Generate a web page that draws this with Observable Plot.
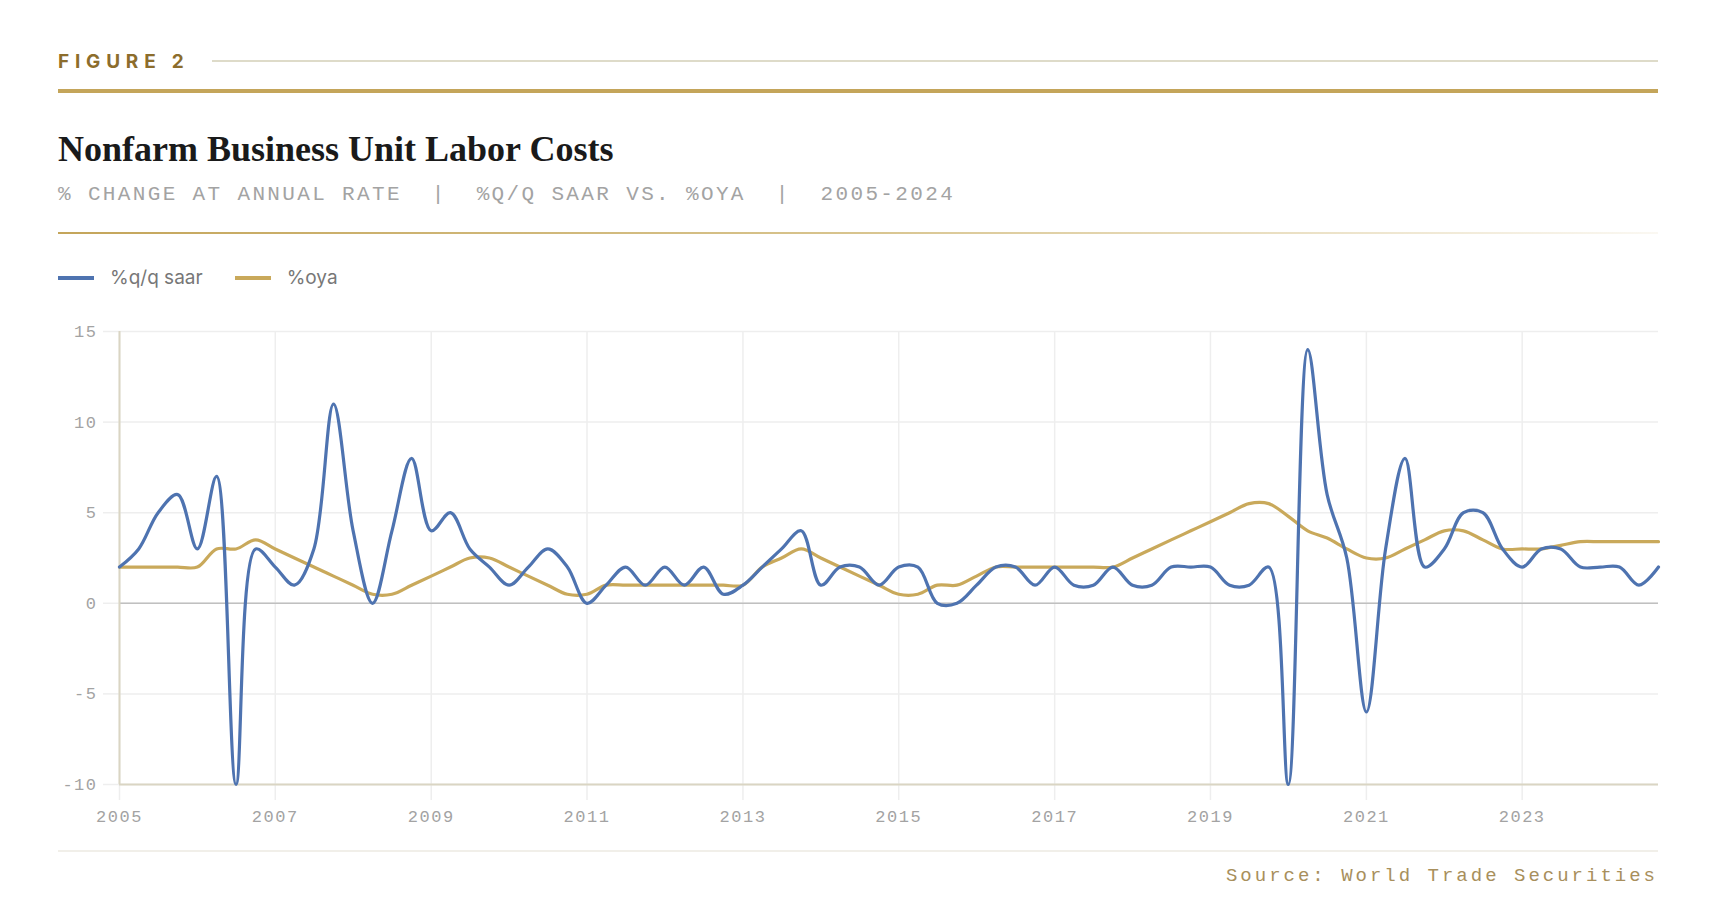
<!DOCTYPE html>
<html>
<head>
<meta charset="utf-8">
<script src="https://cdn.jsdelivr.net/npm/d3@7"></script>
<script src="https://cdn.jsdelivr.net/npm/@observablehq/plot@0.6"></script>
<style>
  html, body { margin: 0; padding: 0; background: #ffffff; }
  body { width: 1736px; height: 924px; position: relative; overflow: hidden; font-family: Inter, "Noto Sans", sans-serif; }
  .abs { position: absolute; }
  #figlabel { left: 58px; top: 52px; font: 700 19px/20px Inter, sans-serif; letter-spacing: 5.8px; color: #8c6d2c; white-space: nowrap; }
  #figline { left: 212px; top: 60px; width: 1446px; height: 2px; background: #dedbc9; }
  #toprule { left: 58px; top: 89px; width: 1600px; height: 4px; background: #c4a55a; }
  #title { left: 58px; top: 131px; font: 700 36px/36px "Liberation Serif", serif; color: #1a1a1a; white-space: nowrap; }
  #subtitle { left: 58px; top: 184px; font: 400 21px/21px "Liberation Mono", monospace; letter-spacing: 2.35px; color: #a3a3a3; white-space: pre; }
  #subrule { left: 58px; top: 232px; width: 1600px; height: 2px; background: linear-gradient(to right, #c4a55a 0%, #d8c48e 50%, rgba(196,165,90,0.08) 100%); }
  #legend { left: 58px; top: 266px; height: 24px; display: flex; align-items: center; font: 400 19px/24px Inter, sans-serif; color: #777777; white-space: nowrap; }
  .sw { display: inline-block; width: 36px; height: 4px; margin-right: 16px; }
  .item { display: flex; align-items: center; margin-right: 32px; }
  #chart { left: 58px; top: 300px; }
  #footrule { left: 58px; top: 850px; width: 1600px; height: 2px; background: #f1efe9; }
  #source { right: 78px; top: 867px; font: 400 19px/19px "Liberation Mono", monospace; letter-spacing: 3px; color: #a88f5c; white-space: nowrap; }
  g[aria-label="x-axis tick label"] text, g[aria-label="y-axis tick label"] text { letter-spacing: 1.5px; }
</style>
</head>
<body>
<div id="figlabel" class="abs">FIGURE 2</div>
<div id="figline" class="abs"></div>
<div id="toprule" class="abs"></div>
<div id="title" class="abs">Nonfarm Business Unit Labor Costs</div>
<div id="subtitle" class="abs">% CHANGE AT ANNUAL RATE  |  %Q/Q SAAR VS. %OYA  |  2005-2024</div>
<div id="subrule" class="abs"></div>
<div id="legend" class="abs"></div>
<div id="chart" class="abs"></div>
<div id="footrule" class="abs"></div>
<div id="source" class="abs">Source: World Trade Securities</div>
<script>
// Quarterly data, 2005 Q1 – 2024 Q4
const startYear = 2005;
const seriesNames = ["%q/q saar", "%oya"];
const seriesColors = ["#4e73b0", "#c9a95b"];

const saar = [
  2, 3, 5, 6,      3, 7, -10, 3,     2, 1, 3, 11,      4, 0, 4, 8,
  4, 5, 3, 2,      1, 2, 3, 2,       0, 1, 2, 1,       2, 1, 2, 0.5,
  1, 2, 3, 4,      1, 2, 2, 1,       2, 2, 0, 0,       1, 2, 2, 1,
  2, 1, 1, 2,      1, 1, 2, 2,       2, 1, 1, 2,       -10, 14, 6, 2.5,
  -6, 3, 8, 2,     3, 5, 5, 3,       2, 3, 3, 2,       2, 2, 1, 2
];
const oya = [
  2, 2, 2, 2,      2, 3, 3, 3.5,     3, 2.5, 2, 1.5,   1, 0.5, 0.5, 1,
  1.5, 2, 2.5, 2.5, 2, 1.5, 1, 0.5,  0.5, 1, 1, 1,     1, 1, 1, 1,
  1, 2, 2.5, 3,    2.5, 2, 1.5, 1,   0.5, 0.5, 1, 1,   1.5, 2, 2, 2,
  2, 2, 2, 2,      2.5, 3, 3.5, 4,   4.5, 5, 5.5, 5.5, 4.8, 4, 3.6, 3,
  2.5, 2.5, 3, 3.5, 4, 4, 3.5, 3,    3, 3, 3.2, 3.4,   3.4, 3.4, 3.4, 3.4
];
const xTickYears = [2005, 2007, 2009, 2011, 2013, 2015, 2017, 2019, 2021, 2023];
const yTicks = [-10, -5, 0, 5, 10, 15];

const dates = saar.map((_, i) => new Date(Date.UTC(startYear, 3 * i, 1)));
const rows = [];
saar.forEach((v, i) => rows.push({date: dates[i], value: v, series: seriesNames[0]}));
oya.forEach((v, i) => rows.push({date: dates[i], value: v, series: seriesNames[1]}));
const xTicks = xTickYears.map(y => new Date(Date.UTC(y, 0, 1)));

// legend
const legend = document.getElementById("legend");
seriesNames.forEach((n, i) => {
  const it = document.createElement("span");
  it.className = "item";
  it.innerHTML = `<span class="sw" style="background:${seriesColors[i]}"></span><span>${n}</span>`;
  legend.appendChild(it);
});

const chart = Plot.plot({
  width: 1600,
  height: 534,
  marginLeft: 61,
  marginRight: 0,
  marginTop: 31,
  marginBottom: 50,
  style: {fontFamily: "'Liberation Mono', monospace", fontSize: "17px", color: "#a3a3a3", background: "transparent", overflow: "visible"},
  x: {type: "utc", domain: [dates[0], dates[dates.length - 1]]},
  y: {domain: [-10, 15]},
  color: {domain: seriesNames, range: seriesColors},
  marks: [
    Plot.gridY({ticks: yTicks, stroke: "#eeeeee", strokeOpacity: 1, strokeWidth: 1.5}),
    Plot.gridX({ticks: xTicks, stroke: "#eeeeee", strokeOpacity: 1, strokeWidth: 1.5}),
    Plot.axisY({ticks: yTicks, tickSize: 16, tickPadding: 6, stroke: "#eeeeee", strokeWidth: 1.5, tickFormat: d => String(d), label: null, fill: "#a3a3a3"}),
    Plot.axisX({ticks: xTicks, tickSize: 16, tickPadding: 9, stroke: "#eeeeee", strokeWidth: 1.5, tickFormat: d3.utcFormat("%Y"), label: null, fill: "#a3a3a3"}),
    Plot.ruleY([0], {stroke: "#c0c0c0", strokeWidth: 1.5}),
    Plot.ruleY([-10], {stroke: "#dad5c3", strokeWidth: 2}),
    Plot.ruleX([dates[0]], {stroke: "#dad5c3", strokeWidth: 2}),
    Plot.lineY(rows.filter(d => d.series === seriesNames[1]), {x: "date", y: "value", stroke: "series", strokeWidth: 3.2, curve: "catmull-rom"}),
    Plot.lineY(rows.filter(d => d.series === seriesNames[0]), {x: "date", y: "value", stroke: "series", strokeWidth: 3.2, curve: "catmull-rom"})
  ]
});
document.getElementById("chart").appendChild(chart);
</script>
</body>
</html>
